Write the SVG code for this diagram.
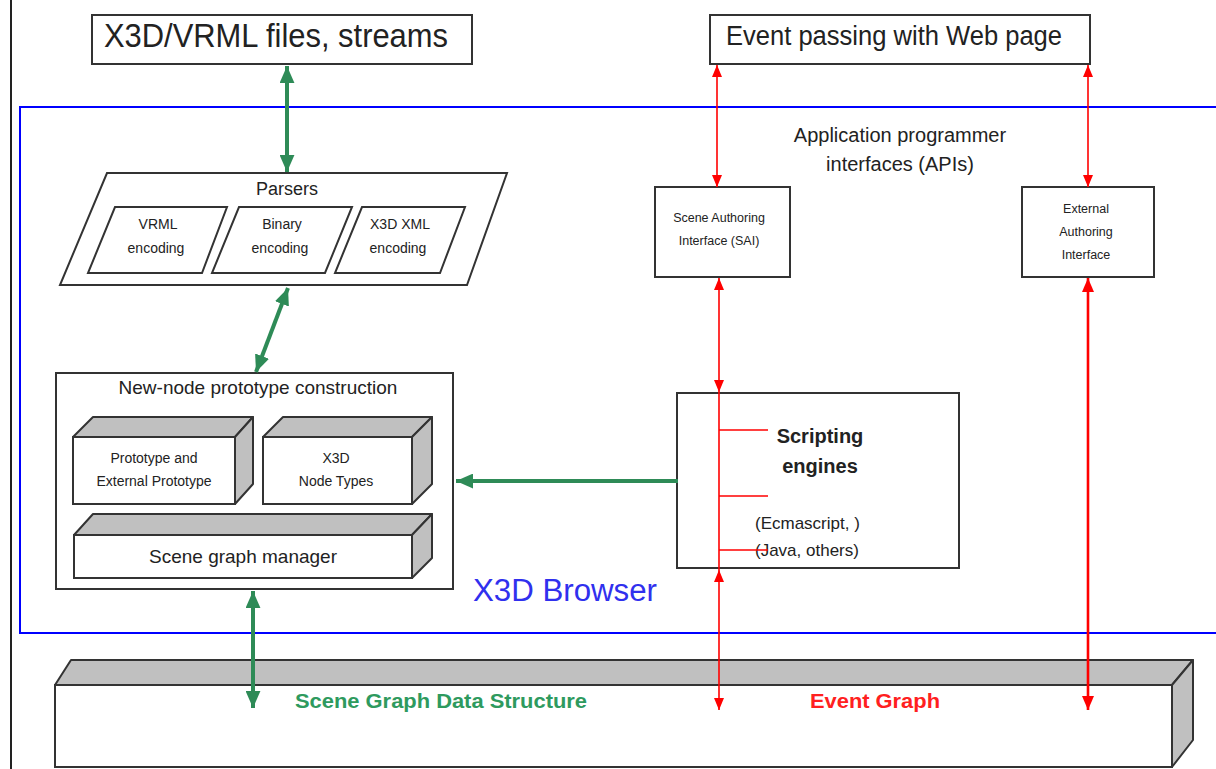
<svg xmlns="http://www.w3.org/2000/svg" width="1216" height="769" viewBox="0 0 1216 769">
<style>
text{font-family:"Liberation Sans",Arial,sans-serif;fill:#222}
.box{fill:#fff;stroke:#333;stroke-width:2}
.top{fill:#c0c0c0;stroke:#333;stroke-width:2;stroke-linejoin:round}
.g{stroke:#2e8b57;stroke-width:4;fill:none}
.r{stroke:#ff0000;stroke-width:1.6;fill:none}
.rt{stroke:#ff0000;stroke-width:2.6;fill:none}
.sm{font-size:14px}
.api{font-size:12.5px}
</style>
<defs>
<marker id="ga" viewBox="0 0 16 14" refX="16" refY="7" markerWidth="17" markerHeight="15" markerUnits="userSpaceOnUse" orient="auto-start-reverse"><path d="M0,0L16,7L0,14z" fill="#2e8b57"/></marker>
<marker id="ra" viewBox="0 0 12 10" refX="12" refY="5" markerWidth="12" markerHeight="10" markerUnits="userSpaceOnUse" orient="auto-start-reverse"><path d="M0,0L12,5L0,10z" fill="#ff0000"/></marker>
<marker id="rb" viewBox="0 0 14 12" refX="14" refY="6" markerWidth="14" markerHeight="12" markerUnits="userSpaceOnUse" orient="auto-start-reverse"><path d="M0,0L14,6L0,12z" fill="#ff0000"/></marker>
</defs>
<line x1="11" y1="0" x2="11" y2="769" stroke="#222" stroke-width="2"/>
<g id="browser">
<rect x="20" y="107" width="1210" height="526" fill="none" stroke="#0000ff" stroke-width="2"/>
<text x="473" y="601" font-size="31" style="fill:#3030ee" textLength="184" lengthAdjust="spacingAndGlyphs">X3D Browser</text>
<text x="900" y="142" font-size="20" text-anchor="middle">Application programmer</text>
<text x="900" y="171" font-size="20" text-anchor="middle">interfaces (APIs)</text>
</g>
<g id="files">
<rect class="box" x="92" y="15" width="380" height="49"/>
<text x="104" y="47" font-size="34" textLength="344" lengthAdjust="spacingAndGlyphs">X3D/VRML files, streams</text>
</g>
<g id="webpage">
<rect class="box" x="710" y="15" width="380" height="49"/>
<text x="726" y="45" font-size="27" textLength="336" lengthAdjust="spacingAndGlyphs">Event passing with Web page</text>
</g>
<g id="sai">
<rect class="box" x="655" y="187" width="135" height="90"/>
<text class="api" x="719" y="222" text-anchor="middle">Scene Authoring</text>
<text class="api" x="719" y="245" text-anchor="middle">Interface (SAI)</text>
</g>
<g id="eai">
<rect class="box" x="1022" y="187" width="132" height="90"/>
<text class="api" x="1086" y="213" text-anchor="middle">External</text>
<text class="api" x="1086" y="236" text-anchor="middle">Authoring</text>
<text class="api" x="1086" y="259" text-anchor="middle">Interface</text>
</g>
<g id="parsers">
<polygon class="box" points="107,173 507,173 467,285 60,285"/>
<text x="287" y="195" font-size="18" text-anchor="middle">Parsers</text>
<polygon class="box" points="115,207 227,207 202,273 88,273"/>
<polygon class="box" points="239,207 352,207 325,273 212,273"/>
<polygon class="box" points="362,207 465,207 440,273 335,273"/>
<text class="sm" x="158" y="229" text-anchor="middle">VRML</text>
<text class="sm" x="156" y="253" text-anchor="middle">encoding</text>
<text class="sm" x="282" y="229" text-anchor="middle">Binary</text>
<text class="sm" x="280" y="253" text-anchor="middle">encoding</text>
<text class="sm" x="400" y="229" text-anchor="middle">X3D XML</text>
<text class="sm" x="398" y="253" text-anchor="middle">encoding</text>
</g>
<g id="newnode">
<rect class="box" x="56" y="373" width="397" height="216"/>
<text x="258" y="394" font-size="19" text-anchor="middle">New-node prototype construction</text>
</g>
<g id="prototype">
<polygon class="top" points="73,437 93,417 253,417 235,437"/>
<polygon class="top" points="235,437 253,417 253,484 235,504"/>
<rect class="box" x="73" y="437" width="162" height="67"/>
<text class="sm" x="154" y="463" text-anchor="middle">Prototype and</text>
<text class="sm" x="154" y="486" text-anchor="middle">External Prototype</text>
</g>
<g id="nodetypes">
<polygon class="top" points="263,437 283,417 432,417 412,437"/>
<polygon class="top" points="412,437 432,417 432,484 412,504"/>
<rect class="box" x="263" y="437" width="149" height="67"/>
<text class="sm" x="336" y="463" text-anchor="middle">X3D</text>
<text class="sm" x="336" y="486" text-anchor="middle">Node Types</text>
</g>
<g id="sgmanager">
<polygon class="top" points="74,535 93,514 432,514 412,535"/>
<polygon class="top" points="412,535 432,514 432,558 412,578"/>
<rect class="box" x="74" y="535" width="338" height="43"/>
<text x="243" y="563" font-size="19" text-anchor="middle">Scene graph manager</text>
</g>
<g id="scripting">
<rect class="box" x="677" y="393" width="282" height="175"/>
<text x="820" y="443" font-size="20" font-weight="bold" text-anchor="middle">Scripting</text>
<text x="820" y="473" font-size="20" font-weight="bold" text-anchor="middle">engines</text>
<text x="755" y="529" font-size="17">(Ecmascript, )</text>
<text x="755" y="556" font-size="17">(Java, others)</text>
</g>
<g id="datastructure">
<polygon class="top" points="55,685 71,660 1193,660 1172,685"/>
<polygon class="top" points="1172,685 1193,660 1193,740 1172,767"/>
<rect class="box" x="55" y="685" width="1117" height="82"/>
<text x="295" y="708" font-size="21" font-weight="bold" style="fill:#2e9a5e" textLength="292" lengthAdjust="spacingAndGlyphs">Scene Graph Data Structure</text>
<text x="810" y="708" font-size="21" font-weight="bold" style="fill:#ff2020" textLength="130" lengthAdjust="spacingAndGlyphs">Event Graph</text>
</g>
<g id="connectors">
<line class="g" x1="287" y1="66" x2="287" y2="172" marker-start="url(#ga)" marker-end="url(#ga)"/>
<line class="g" x1="288" y1="288" x2="256" y2="372" marker-start="url(#ga)" marker-end="url(#ga)"/>
<line class="g" x1="678" y1="481" x2="456" y2="481" marker-end="url(#ga)"/>
<line class="g" x1="253" y1="591" x2="253" y2="708" marker-start="url(#ga)" marker-end="url(#ga)"/>
<line class="r" x1="717" y1="65" x2="717" y2="187" marker-start="url(#ra)" marker-end="url(#ra)"/>
<line class="r" x1="1088" y1="65" x2="1088" y2="187" marker-start="url(#ra)" marker-end="url(#ra)"/>
<line class="r" x1="719" y1="278" x2="719" y2="392" marker-start="url(#ra)" marker-end="url(#ra)"/>
<line class="r" x1="719" y1="392" x2="719" y2="570"/>
<line class="r" x1="719" y1="570" x2="719" y2="710" marker-start="url(#ra)" marker-end="url(#ra)"/>
<line class="r" x1="719" y1="430" x2="768" y2="430"/>
<line class="r" x1="719" y1="496" x2="768" y2="496"/>
<line class="r" x1="719" y1="550" x2="768" y2="550"/>
<line class="rt" x1="1088" y1="278" x2="1088" y2="710" marker-start="url(#rb)" marker-end="url(#rb)"/>
</g>
</svg>
